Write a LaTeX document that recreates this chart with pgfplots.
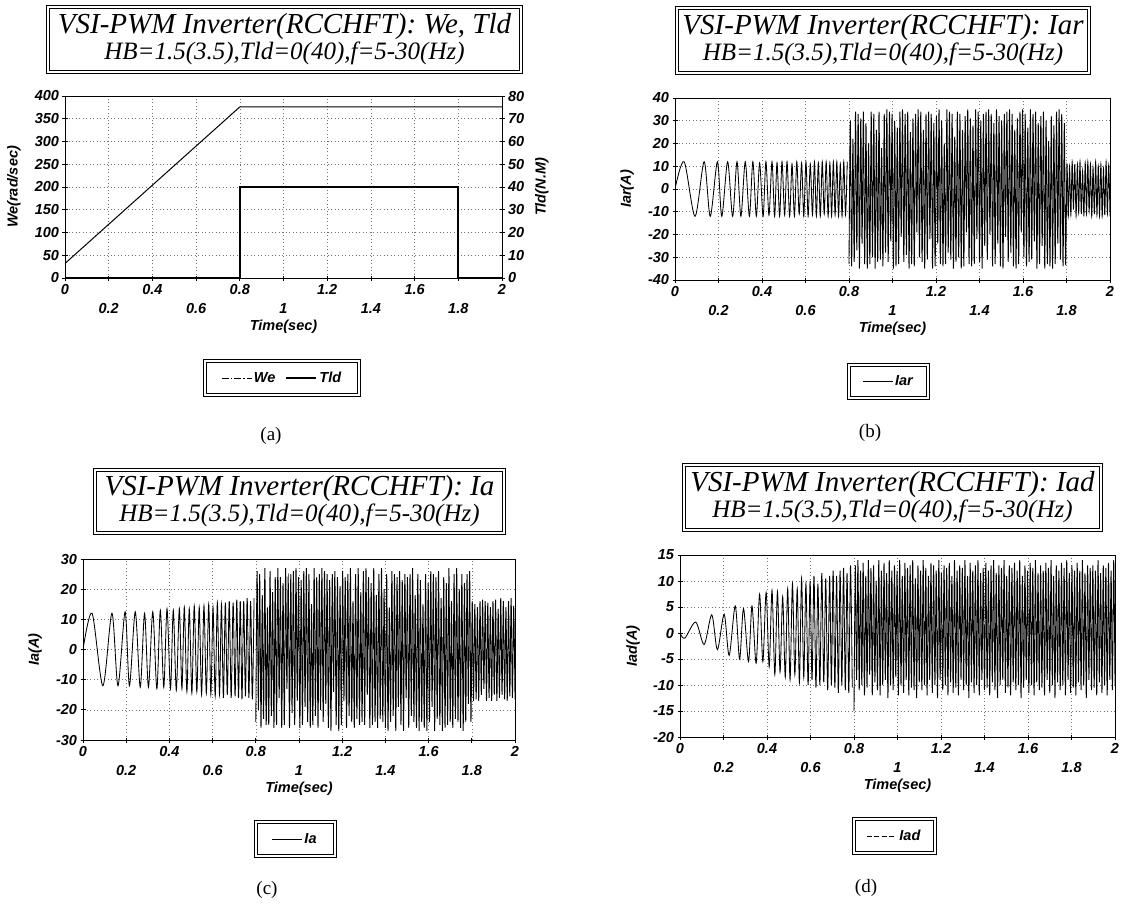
\documentclass[border=0pt]{standalone}
\usepackage{fontspec}
\setmainfont{Liberation Serif}
\setsansfont{Liberation Sans}
\usepackage{pgfplots}
\usepackage{pgfplotstable}
\pgfplotsset{compat=1.18}

\newcommand{\tickfont}{\sffamily\bfseries\itshape\fontsize{14.5}{16}\selectfont}
\newcommand{\titlefontA}{\itshape\fontsize{29}{31}\selectfont}
\newcommand{\titlefontB}{\itshape\fontsize{25}{27}\selectfont}
\newcommand{\capfont}{\fontsize{19}{21}\selectfont}

% extrema of Iar and Ia during the frequency ramp (0 - 0.8 s)
\pgfplotstableread{
t b c
0.000 0 0
0.042 12 12
0.092 -12 -12
0.134 12 12
0.162 -12 -12
0.195 12 12.5
0.215 -12 -12
0.242 12 12.5
0.265 -12 -12.5
0.285 12 12
0.303 -12 -12.5
0.323 12 12.5
0.342 -12 -13
0.358 12 13
0.374 -12 -12.5
0.389 11.5 13.5
0.405 -12 -13
0.418 12 13
0.432 -11.5 -13.5
0.446 12 13.5
0.458 -12 -13
0.469 11.5 14
0.481 -12 -14
0.492 12 13.5
0.504 -11.5 -14.5
0.515 12 14.5
0.527 -12 -14
0.538 11 14
0.549 -12 -15
0.560 12 14.5
0.571 -11 -14.5
0.582 11.5 15
0.592 -12 -15
0.602 12 14
0.612 -12 -15.5
0.622 11 15.5
0.632 -11.5 -15
0.641 12 15
0.650 -12 -16
0.659 11.5 15.5
0.668 -12 -15
0.677 12 16
0.686 -11 -16
0.695 12 15.5
0.704 -12 -15.5
0.712 11.5 16.5
0.720 -12 -16
0.728 12 16
0.736 -11.5 -16.5
0.744 12 16
0.752 -12 -15.5
0.760 11 17
0.768 -12 -16
0.776 12 16
0.784 -11.5 -16.5
0.792 12 17
}\earlybc

% extrema of Iad during the frequency ramp
\pgfplotstableread{
t d
0.000 0
0.022 -1
0.072 2.1
0.111 -2.2
0.146 3.5
0.172 -3.2
0.203 3.6
0.226 -4.3
0.254 5.2
0.274 -5
0.292 4.7
0.315 -5.5
0.331 5.2
0.350 -5.8
0.366 7.5
0.381 -5.5
0.396 7.8
0.410 -6.5
0.423 8.2
0.436 -8
0.448 8
0.460 -7.5
0.472 7
0.484 -8.5
0.495 8.5
0.506 -9
0.517 9.5
0.528 -8
0.539 8.5
0.549 -9.5
0.559 10.5
0.569 -8.5
0.579 9.5
0.589 -10
0.598 10
0.607 -9
0.616 11
0.625 -10.5
0.634 9.5
0.643 -10
0.652 11.5
0.661 -9.5
0.670 10.5
0.679 -11
0.688 11
0.696 -10
0.704 12
0.712 -10.5
0.720 11
0.728 -11.5
0.736 12
0.744 -10
0.752 12.5
0.760 -11
0.768 11.5
0.776 -11.5
0.784 13
0.792 -10.5
}\earlyd

% extrema after the ramp (0.8 - 2 s): Iar, Ia, Iad
\pgfplotstableread{
t b c d
0.800 -33 -24 -15
0.806 30 26 13
0.812 -34 -20 -9
0.818 22 25 14
0.824 -32 -26 -11
0.830 34 18 12
0.836 -27 -23 -10
0.842 33 27 13.5
0.848 -35 -25 -12
0.854 31 14 11
0.860 -24 -25 -10.5
0.866 34 26 14
0.872 -33 -22 -8
0.878 29 19 12.5
0.884 -35 -26 -12
0.890 20 24 13
0.896 -33 -25 -9.5
0.902 34 27 10
0.908 -30 -16 -11
0.914 33 24 14
0.920 -35 -26 -12
0.926 26 22 12
0.932 -32 -25 -10
0.938 34 27 13.5
0.944 -31 -13 -9
0.950 18 24 11.5
0.956 -34 -26 -12.5
0.962 33 25 14
0.968 -28 -21 -10
0.974 35 26 12
0.980 -32 -25 -11
0.986 34 27 13
0.992 -23 -17 -8.5
0.998 33 24 12
1.004 -35 -26 -12
1.010 30 23 14
1.016 -34 -25 -10
1.022 27 26 11
1.028 -33 -19 -11.5
1.034 34 27 13.5
1.040 -21 -24 -9
1.046 35 25 12.5
1.052 -32 -26 -12
1.058 33 15 13
1.064 -29 -25 -10.5
1.070 34 27 14
1.076 -35 -22 -11
1.082 25 24 10.5
1.088 -33 -26 -12.5
1.094 31 25 13
1.100 -34 -20 -9.5
1.106 33 27 12
1.112 -19 -24 -11
1.118 35 26 14
1.124 -30 -18 -10
1.130 34 25 12.5
1.136 -32 -26 -12
1.142 26 23 11
1.148 -35 -27 -9
1.154 33 25 13.5
1.160 -31 -14 -11.5
1.166 34 26 13
1.172 -22 -25 -10
1.178 33 24 12
1.184 -35 -27 -12.5
1.190 29 21 14
1.196 -34 -25 -9
1.202 32 26 11.5
1.208 -24 -17 -11
1.214 35 24 13
1.220 -33 -26 -10
1.226 30 25 12.5
1.232 -34 -22 -12
1.238 20 27 13.5
1.244 -33 -24 -9.5
1.250 35 16 11
1.256 -28 -26 -11.5
1.262 34 25 14
1.268 -31 -23 -10.5
1.274 33 27 12
1.280 -35 -25 -12
1.286 23 19 13
1.292 -32 -24 -9
1.298 34 26 12.5
1.304 -30 -25 -11
1.310 33 27 14
1.316 -35 -15 -10
1.322 26 24 11
1.328 -34 -26 -12.5
1.334 32 22 13.5
1.340 -19 -25 -9.5
1.346 35 27 12
1.352 -33 -24 -11.5
1.358 31 18 13
1.364 -34 -26 -10
1.370 28 25 14
1.376 -33 -23 -12
1.382 35 27 11.5
1.388 -22 -24 -9
1.394 34 20 12.5
1.400 -32 -26 -11
1.406 30 25 13.5
1.412 -35 -27 -10.5
1.418 33 14 12
1.424 -25 -24 -12
1.430 34 26 13
1.436 -31 -22 -9.5
1.442 35 25 14
1.448 -20 -27 -11
1.454 33 24 11.5
1.460 -34 -19 -12.5
1.466 29 26 13
1.472 -33 -25 -10
1.478 35 23 12.5
1.484 -24 -27 -9
1.490 32 25 14
1.496 -34 -16 -11.5
1.502 30 24 11
1.508 -35 -26 -10.5
1.514 33 25 13
1.520 -21 -22 -12
1.526 34 27 12.5
1.532 -32 -24 -9.5
1.538 35 18 13.5
1.544 -28 -26 -11
1.550 33 25 12
1.556 -34 -27 -10
1.562 26 23 14
1.568 -35 -24 -12.5
1.574 31 15 11
1.580 -33 -26 -10.5
1.586 34 25 13
1.592 -19 -27 -9
1.598 35 22 12
1.604 -30 -24 -11.5
1.610 33 26 13.5
1.616 -34 -19 -10
1.622 27 25 12.5
1.628 -32 -27 -12
1.634 35 24 14
1.640 -31 -23 -9.5
1.646 33 26 11.5
1.652 -23 -25 -11
1.658 34 17 13
1.664 -35 -27 -10.5
1.670 29 24 12
1.676 -33 -26 -12
1.682 32 22 13.5
1.688 -25 -25 -9
1.694 34 27 12.5
1.700 -35 -24 -11.5
1.706 30 16 14
1.712 -33 -26 -10
1.718 21 25 11
1.724 -34 -23 -12.5
1.730 32 27 13
1.736 -35 -24 -9.5
1.742 28 20 12
1.748 -33 -26 -11
1.754 34 25 13.5
1.760 -24 -27 -10
1.766 35 22 12.5
1.772 -31 -24 -12
1.778 33 25 14
1.784 -34 -18 -9
1.790 29 26 11.5
1.796 -33 -24 -11.5
1.802 11 16 13
1.808 -12 -17 -10.5
1.814 10 15 12
1.820 -11.5 -16.5 -12
1.826 12 14 13.5
1.832 -9 -17 -9.5
1.838 11 16 12
1.844 -12 -15 -11
1.850 11 16.5 14
1.856 -10.5 -13 -10
1.862 12 16 11.5
1.868 -11 -17 -12.5
1.874 8 15.5 13
1.880 -12 -16 -9
1.886 11.5 14 12.5
1.892 -11 -17 -11
1.898 12 16 13
1.904 -10 -15 -10.5
1.910 11 16.5 12
1.916 -12 -17 -12
1.922 9.5 13.5 14
1.928 -11 -16 -9.5
1.934 12 17 11.5
1.940 -11.5 -15 -11.5
1.946 10 16 13
1.952 -12 -16.5 -10
1.958 11 14 12.5
1.964 -12 -17 -12
1.970 9 16 13.5
1.976 -11.5 -15.5 -9
1.982 12 17 12
1.988 -11 -16 -11
1.994 10.5 14.5 14
2.000 -12 -16.5 -10
}\late

\pgfplotsset{
  base/.style={
    scale only axis,
    anchor=south west,
    xmin=0, xmax=2,
    xtick={0,0.4,0.8,1.2,1.6,2},
    grid=major,
    grid style={black!55, line width=0.6pt, dash pattern=on 1pt off 2.5pt},
    axis line style={line width=0.8pt},
    tick align=center, major tick length=5pt,
    tick style={black, line width=0.7pt},
    tick pos=left,
    tick label style={font=\tickfont},
    /pgf/number format/assume math mode=true,
    label style={font=\tickfont},
    legend style={draw=black, double, double distance=2pt, line width=1pt,
      font=\tickfont, legend columns=-1, anchor=center, inner ysep=9pt,
      /tikz/every even column/.append style={column sep=8pt}},
    legend image code/.code={\draw[#1] (0pt,0pt) -- (30pt,0pt);},
  },
  stagger/.style={
    extra x ticks={0.2,0.6,1,1.4,1.8},
    extra x tick style={grid=major, tick label style={yshift=-19pt}},
    xlabel={Time(sec)},
    xlabel style={at={(axis description cs:0.5,-0.27)}, anchor=center},
  },
  sig/.style={black, line width=0.85pt, smooth},
}

\begin{document}
\begin{tikzpicture}
\useasboundingbox (0,0) rectangle (1129pt,-910pt);

% (a) We, Tld
\begin{axis}[base, stagger, at={(65pt,-278pt)}, width=437pt, height=182pt,
  ymin=0, ymax=400, ytick={0,50,...,400},
  ylabel={We(rad/sec)},
  ylabel style={at={(axis description cs:-0.117,0.5)}, anchor=center}]
\addplot[black, line width=1pt] coordinates {(0,32) (0.8,376) (2,376)};
\end{axis}
\begin{axis}[base, at={(65pt,-278pt)}, width=437pt, height=182pt,
  axis x line=none, axis y line*=right, ytick pos=right, grid=none,
  ymin=0, ymax=80, ytick={0,10,...,80},
  ylabel={Tld(N.M)},
  ylabel style={at={(axis description cs:1.0915,0.5)}, anchor=center},
  legend style={at={(axis description cs:0.497,-0.549)}, inner xsep=16pt}]
\addlegendimage{black, line width=0.8pt, dash pattern=on 7pt off 2pt on 1.5pt off 2pt}
\addlegendentry{We}
\addplot[black, line width=2pt] coordinates {(0,0) (0.8,0) (0.8,40) (1.8,40) (1.8,0) (2,0)};
\addlegendentry{Tld}
\end{axis}

% (b) Iar
\begin{axis}[base, stagger, at={(675pt,-280pt)}, width=435pt, height=182pt,
  ymin=-40, ymax=40, ytick={-40,-30,...,40},
  ylabel={Iar(A)},
  ylabel style={at={(axis description cs:-0.110,0.5)}, anchor=center},
  legend style={at={(axis description cs:0.491,-0.558)}, inner xsep=13pt}]
\addplot[sig] table[x=t, y=b] {\earlybc};
\addlegendentry{Iar}
\addplot[sig, forget plot] table[x=t, y=b] {\late};
\end{axis}

% (c) Ia
\begin{axis}[base, stagger, at={(83pt,-740pt)}, width=432pt, height=181pt,
  ymin=-30, ymax=30, ytick={-30,-20,...,30},
  ylabel={Ia(A)},
  ylabel style={at={(axis description cs:-0.111,0.5)}, anchor=center},
  legend style={at={(axis description cs:0.491,-0.547)}, inner xsep=16pt}]
\addplot[sig] table[x=t, y=c] {\earlybc};
\addlegendentry{Ia}
\addplot[sig, forget plot] table[x=t, y=c] {\late};
\end{axis}

% (d) Iad
\begin{axis}[base, stagger, at={(680pt,-737pt)}, width=435pt, height=182pt,
  ymin=-20, ymax=15, ytick={-20,-15,...,15},
  ylabel={Iad(A)},
  ylabel style={at={(axis description cs:-0.108,0.5)}, anchor=center},
  legend style={at={(axis description cs:0.493,-0.544)}, inner xsep=13pt},
  legend image post style={dash pattern=on 5pt off 2.5pt}]
\addplot[sig] table[x=t, y=d] {\earlyd};
\addlegendentry{Iad}
\addplot[sig, forget plot] table[x=t, y=d] {\late};
\end{axis}

% title boxes
\tikzset{tbox/.style={draw=black, double, double distance=2.5pt, line width=0.8pt, inner sep=0pt}}
\node[tbox, minimum width=473pt, minimum height=65pt] at (284.5pt,-39.5pt) {};
\node[font=\titlefontA] at (284.5pt,-27pt) {VSI-PWM Inverter(RCCHFT): We, Tld};
\node[font=\titlefontB] at (284.5pt,-53pt) {HB=1.5(3.5),Tld=0(40),f=5-30(Hz)};

\node[tbox, minimum width=412pt, minimum height=65pt] at (883pt,-40.5pt) {};
\node[font=\titlefontA] at (883pt,-28pt) {VSI-PWM Inverter(RCCHFT): Iar};
\node[font=\titlefontB] at (883pt,-54pt) {HB=1.5(3.5),Tld=0(40),f=5-30(Hz)};

\node[tbox, minimum width=409pt, minimum height=63pt] at (299.5pt,-501.5pt) {};
\node[font=\titlefontA] at (299.5pt,-489pt) {VSI-PWM Inverter(RCCHFT): Ia};
\node[font=\titlefontB] at (299.5pt,-515pt) {HB=1.5(3.5),Tld=0(40),f=5-30(Hz)};

\node[tbox, minimum width=417pt, minimum height=65pt] at (892.5pt,-497.5pt) {};
\node[font=\titlefontA] at (892.5pt,-485pt) {VSI-PWM Inverter(RCCHFT): Iad};
\node[font=\titlefontB] at (892.5pt,-511pt) {HB=1.5(3.5),Tld=0(40),f=5-30(Hz)};

% sub-captions
\node[font=\capfont] at (271pt,-436pt) {(a)};
\node[font=\capfont] at (870pt,-433pt) {(b)};
\node[font=\capfont] at (267pt,-890pt) {(c)};
\node[font=\capfont] at (866pt,-888pt) {(d)};
\end{tikzpicture}
\end{document}
